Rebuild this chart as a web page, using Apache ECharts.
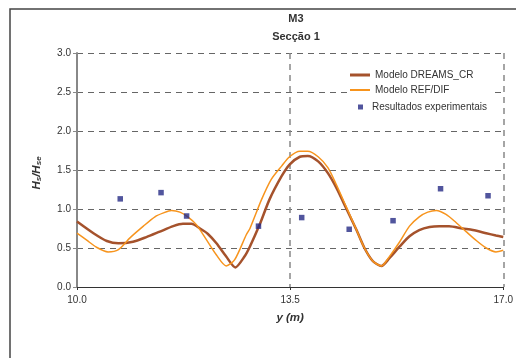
<!DOCTYPE html>
<html><head><meta charset="utf-8">
<script src="https://cdn.jsdelivr.net/npm/echarts@6/dist/echarts.min.js"></script>
<style>html,body{margin:0;padding:0;background:#fff}#c{width:516px;height:358px}</style>
</head><body><div id="c"></div><script>
const titleLines = ['M3', 'Secção 1'];
const seriesNames = ['Modelo DREAMS_CR', 'Modelo REF/DIF', 'Resultados experimentais'];
const xTicks = [10.0, 13.5, 17.0];

const dreamsX = [10.0, 10.27, 10.49, 10.68, 10.92, 11.14, 11.36, 11.58, 11.74, 11.88, 12.02, 12.15, 12.29, 12.45, 12.60, 12.75, 12.84, 13.0, 13.16, 13.36, 13.49, 13.66, 13.79, 13.96, 14.12, 14.26, 14.42, 14.59, 14.72, 14.86, 15.0, 15.13, 15.30, 15.46, 15.62, 15.79, 15.95, 16.11, 16.33, 16.50, 16.72, 16.88, 17.0];
const dreamsY = [0.84, 0.69, 0.59, 0.56, 0.58, 0.64, 0.71, 0.78, 0.81, 0.81, 0.75, 0.68, 0.56, 0.39, 0.25, 0.39, 0.52, 0.80, 1.12, 1.42, 1.57, 1.67, 1.68, 1.61, 1.46, 1.27, 1.01, 0.73, 0.50, 0.33, 0.27, 0.37, 0.52, 0.65, 0.73, 0.77, 0.78, 0.78, 0.75, 0.73, 0.69, 0.66, 0.64];

const refX = [10.0, 10.16, 10.32, 10.51, 10.68, 10.87, 11.09, 11.28, 11.42, 11.55, 11.69, 11.82, 11.96, 12.13, 12.29, 12.45, 12.59, 12.78, 12.84, 13.03, 13.19, 13.36, 13.49, 13.66, 13.79, 13.96, 14.12, 14.26, 14.42, 14.59, 14.72, 14.86, 15.0, 15.13, 15.30, 15.46, 15.62, 15.76, 15.90, 16.06, 16.22, 16.39, 16.55, 16.72, 16.88, 17.0];
const refY = [0.69, 0.60, 0.51, 0.45, 0.48, 0.63, 0.78, 0.90, 0.95, 0.98, 0.96, 0.90, 0.80, 0.60, 0.41, 0.27, 0.35, 0.67, 0.75, 1.12, 1.38, 1.55, 1.67, 1.74, 1.74, 1.67, 1.53, 1.31, 1.03, 0.73, 0.50, 0.33, 0.27, 0.39, 0.58, 0.78, 0.90, 0.96, 0.98, 0.93, 0.83, 0.71, 0.60, 0.50, 0.45, 0.47];

const expX = [10.71, 11.38, 11.80, 12.98, 13.69, 14.47, 15.19, 15.97, 16.75];
const expY = [1.13, 1.21, 0.91, 0.78, 0.89, 0.74, 0.85, 1.26, 1.17];

const zip = (xs, ys) => xs.map((x, i) => [x, ys[i]]);
const FONT = '"Liberation Sans", Arial, sans-serif';
const TXT = '#333';
const legendText = {fontFamily: FONT, fontSize: 10, color: TXT, lineHeight: 12};

const chart = echarts.init(document.getElementById('c'), null, {renderer: 'canvas'});
chart.setOption({
  animation: false,
  backgroundColor: '#fff',
  textStyle: {fontFamily: FONT},
  title: {
    text: titleLines.join('\n'),
    left: 291, top: 5, textAlign: 'center',
    textStyle: {fontFamily: FONT, fontSize: 11, fontWeight: 'bold', color: TXT, lineHeight: 18}
  },
  graphic: [
    {type: 'polyline', z: 5, shape: {points: [[10, 360], [10, 9], [520, 9]]}, style: {stroke: '#444', lineWidth: 1.5, fill: null}},
    {type: 'rect', z: 3, shape: {x: 348, y: 64, width: 145, height: 50}, style: {fill: '#fff'}}
  ],
  legend: [
    {
      data: [{name: seriesNames[0], icon: 'rect'}],
      left: 345, top: 65, padding: [4, 5, 1, 5],
      itemWidth: 20, itemHeight: 3, textStyle: legendText, z: 6
    },
    {
      data: [{name: seriesNames[1], icon: 'rect'}],
      left: 345, top: 83, padding: [1, 5, 1, 5],
      itemWidth: 20, itemHeight: 2, textStyle: legendText, z: 6
    },
    {
      data: [{name: seriesNames[2], icon: 'rect'}],
      left: 353, top: 99, padding: [2, 5, 2, 5],
      itemWidth: 5, itemHeight: 5,
      textStyle: Object.assign({}, legendText, {padding: [0, 0, 0, 4]}),
      z: 6
    }
  ],
  grid: {left: 77, right: 12, top: 53, bottom: 71, containLabel: false},
  xAxis: {
    type: 'value', min: 10, max: 17, interval: 3.5,
    name: 'y (m)', nameLocation: 'middle', nameGap: 25,
    nameTextStyle: {fontFamily: FONT, fontSize: 11.5, fontWeight: 'bold', fontStyle: 'italic', color: TXT},
    axisLine: {show: true, lineStyle: {color: '#333', width: 1}},
    axisTick: {show: true, length: 3, lineStyle: {color: '#333'}},
    axisLabel: {fontFamily: FONT, fontSize: 10, color: TXT, margin: 8, formatter: v => v.toFixed(1),
      customValues: xTicks},
    splitLine: {show: true, lineStyle: {color: '#888', width: 1.5, type: [6, 5]}}
  },
  yAxis: {
    type: 'value', min: 0, max: 3, interval: 0.5,
    name: '{h|H}{s|s}{h|/H}{s|se}', nameLocation: 'middle', nameGap: 34, nameRotate: 90,
    nameTextStyle: {
      fontFamily: FONT, color: TXT, padding: [0, 6, 0, 0],
      rich: {
        h: {fontFamily: FONT, fontSize: 11.5, fontWeight: 'bold', fontStyle: 'italic', color: TXT, lineHeight: 14, verticalAlign: 'bottom'},
        s: {fontFamily: FONT, fontSize: 8, fontWeight: 'bold', fontStyle: 'italic', color: TXT, lineHeight: 11, verticalAlign: 'bottom'}
      }
    },
    axisLine: {show: true, lineStyle: {color: '#888', width: 2}},
    axisTick: {show: true, length: 4, lineStyle: {color: '#888'}},
    axisLabel: {fontFamily: FONT, fontSize: 10, color: TXT, margin: 6, formatter: v => v.toFixed(1)},
    splitLine: {show: true, lineStyle: {color: '#666', width: 1, type: [6, 5]}}
  },
  series: [
    {
      name: seriesNames[0], type: 'line', data: zip(dreamsX, dreamsY),
      symbol: 'none', smooth: 0.25, z: 3,
      lineStyle: {color: '#A5522C', width: 2.5}, itemStyle: {color: '#A5522C'}
    },
    {
      name: seriesNames[1], type: 'line', data: zip(refX, refY),
      symbol: 'none', smooth: 0.25, z: 3,
      lineStyle: {color: '#F7941D', width: 1.5}, itemStyle: {color: '#F7941D'}
    },
    {
      name: seriesNames[2], type: 'scatter', data: zip(expX, expY),
      symbol: 'rect', symbolSize: 5.5, z: 4,
      itemStyle: {color: '#262A85'}
    }
  ]
});
</script></body></html>
